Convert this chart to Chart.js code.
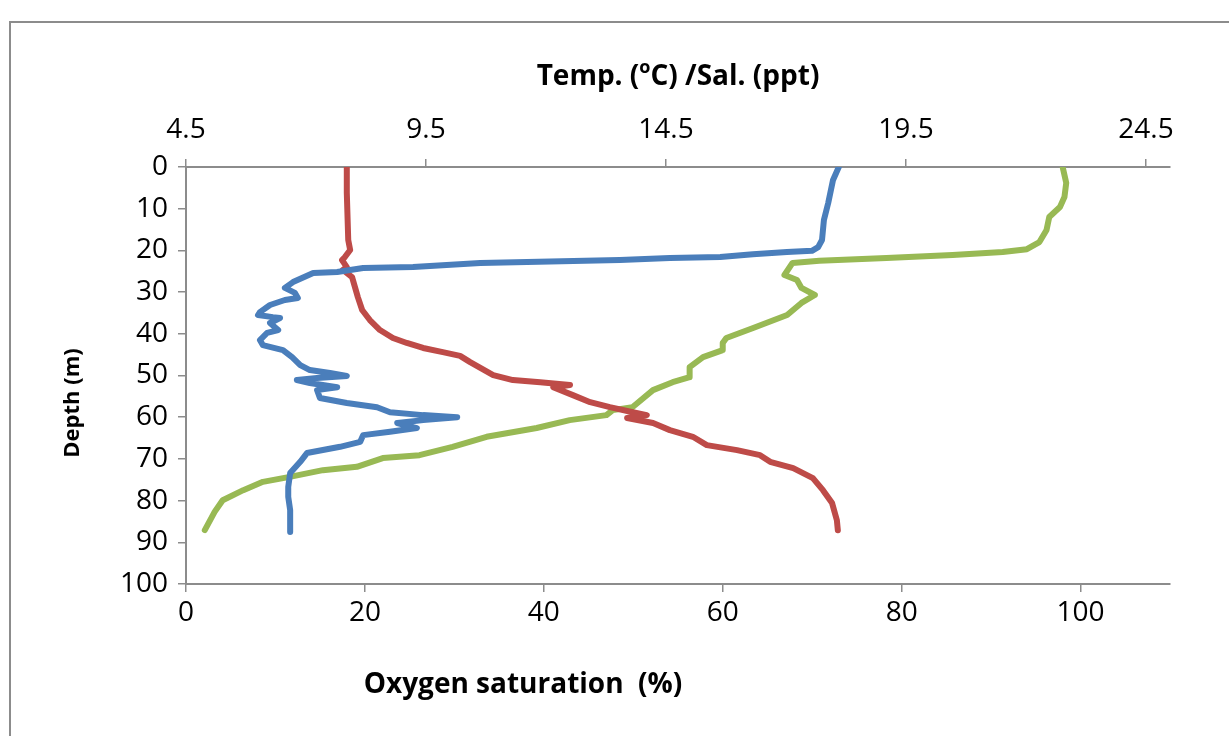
<!DOCTYPE html>
<html><head><meta charset="utf-8">
<script src="https://cdn.jsdelivr.net/npm/chart.js@4.4.1/dist/chart.umd.min.js"></script>
<style>
html,body{margin:0;padding:0;background:#fff;width:1229px;height:736px;overflow:hidden}
#frame{position:absolute;left:9px;top:21px;width:1260px;height:760px;border:2px solid #8c8c8c;box-sizing:border-box}
#wrap{position:absolute;left:0;top:0;width:1229px;height:736px}
</style></head><body>
<div id="frame"></div>
<div id="wrap"><canvas id="c" width="1229" height="736"></canvas></div>
<script>
// ---- data ----
const tempDepth  = [0,3.1,8.6,12.7,17.5,19.2,20.1,20.4,20.9,21.6,21.8,22.3,23.0,24.0,24.2,25.2,25.4,27.6,29.0,30.2,31.4,31.9,33.1,34.8,35.5,36.0,36.2,37.4,39.1,39.8,41.5,42.7,43.9,45.6,47.5,48.7,49.4,50.1,50.6,51.1,51.8,52.8,53.5,55.4,56.6,57.6,58.8,59.5,60.0,60.7,61.4,62.6,63.5,64.3,65.9,67.1,68.6,70.7,73.4,76.7,79.1,82.3,87.5];
const tempValues = [18.1,17.98,17.88,17.79,17.75,17.67,17.54,17.02,16.31,15.63,14.58,13.54,10.63,9.23,8.19,7.65,7.15,6.73,6.56,6.77,6.83,6.56,6.25,6.04,6.0,6.31,6.46,6.25,6.42,6.19,6.04,6.1,6.52,6.71,6.88,7.08,7.5,7.85,7.23,6.81,7.08,7.65,7.23,7.29,7.85,8.48,8.75,9.44,10.15,9.44,8.9,9.31,8.75,8.19,8.13,7.71,7.02,6.88,6.67,6.63,6.63,6.67,6.67];

const salDepth  = [0,6.2,17.5,19.9,21.6,22.3,24.0,24.7,26.4,28.8,31.2,34.3,36.7,39.1,41.0,42.2,43.4,44.4,45.3,46.8,49.9,51.1,51.6,52.3,52.8,54.7,56.4,57.6,58.8,59.5,60.2,61.4,63.1,64.7,66.7,67.9,69.1,70.7,72.2,74.6,77.5,80.6,84.7,87.1];
const salValues = [7.85,7.85,7.88,7.92,7.81,7.75,7.85,7.77,7.96,8.02,8.08,8.17,8.33,8.54,8.81,9.1,9.44,9.85,10.21,10.42,10.9,11.31,11.88,12.5,12.15,12.56,12.92,13.33,13.81,14.1,13.69,14.23,14.58,15.06,15.35,15.98,16.46,16.67,17.15,17.56,17.77,17.96,18.06,18.08];

const oxyDepth  = [0,3.8,7.2,9.6,12.0,15.1,18.0,19.7,20.4,21.1,21.8,22.5,23.0,25.9,27.1,29.0,30.7,32.6,35.5,38.6,41.0,42.2,43.9,45.6,48.0,50.4,51.6,53.5,57.6,58.3,59.5,60.7,62.6,64.7,67.1,69.1,69.8,71.9,72.7,74.3,75.5,77.5,79.9,82.7,87.1];
const oxyValues = [98.0,98.4,98.2,97.7,96.5,96.2,95.4,94.0,91.3,85.7,78.3,70.8,67.8,66.9,68.3,68.8,70.3,68.8,67.2,63.4,60.4,60.0,60.0,57.8,56.3,56.3,54.4,52.2,49.9,47.7,47.0,42.9,39.2,33.6,29.8,26.1,22.0,19.1,15.3,11.6,8.6,6.4,4.1,3.2,2.1];

const depthTicks = [0,10,20,30,40,50,60,70,80,90,100];
const oxyTicks   = [0,20,40,60,80,100];
const tsTicks    = [4.5,9.5,14.5,19.5,24.5];
const tsTickLabels = ['4.5','9.5','14.5','19.5','24.5'];

const depthTitle = 'Depth (m)';
const oxyTitle = 'Oxygen saturation  (%)';
const tsTitleParts = ['Temp. (', 'o', 'C) /Sal. (ppt)'];

// ---- chart ----
const pairs = (xs, ds) => xs.map((v, i) => ({x: v, y: ds[i]}));
const AX = '#8c8c8c';
const tickFont = {family: '"Open Sans"', size: 28};

const titlePlugin = {
  id: 'axisTitles',
  afterDraw(chart) {
    const ctx = chart.ctx;
    const ca = chart.chartArea;
    ctx.save();
    ctx.fillStyle = '#000';
    ctx.textBaseline = 'middle';
    // bottom title
    ctx.font = 'bold 28px "Open Sans"';
    ctx.textAlign = 'left';
    const wO = ctx.measureText(oxyTitle).width;
    ctx.fillText(oxyTitle, 523 - wO / 2, 685);
    // top title with superscript
    ctx.font = 'bold 28px "Open Sans"';
    const w1 = ctx.measureText(tsTitleParts[0]).width;
    const w3 = ctx.measureText(tsTitleParts[2]).width;
    ctx.font = 'bold 18px "Open Sans"';
    const w2 = ctx.measureText(tsTitleParts[1]).width;
    let x = (ca.left + ca.right) / 2 - (w1 + w2 + w3) / 2;
    const ty = 77;
    ctx.font = 'bold 28px "Open Sans"';
    ctx.fillText(tsTitleParts[0], x, ty); x += w1;
    ctx.font = 'bold 18px "Open Sans"';
    ctx.fillText(tsTitleParts[1], x, ty - 9); x += w2;
    ctx.font = 'bold 28px "Open Sans"';
    ctx.fillText(tsTitleParts[2], x, ty);
    // left title
    ctx.translate(73, 403);
    ctx.rotate(-Math.PI / 2);
    ctx.textAlign = 'center';
    ctx.font = 'bold 22px "Open Sans"';
    ctx.fillText(depthTitle, 0, 0);
    ctx.restore();
  }
};

new Chart(document.getElementById('c'), {
  type: 'scatter',
  data: {
    datasets: [
      {label: 'Temperature', data: pairs(tempValues, tempDepth), xAxisID: 'xTop', yAxisID: 'y',
       showLine: true, borderColor: '#4a7ebb', borderWidth: 6, pointRadius: 0, tension: 0, borderJoinStyle: 'round', borderCapStyle: 'round'},
      {label: 'Salinity', data: pairs(salValues, salDepth), xAxisID: 'xTop', yAxisID: 'y',
       showLine: true, borderColor: '#be4b48', borderWidth: 6, pointRadius: 0, tension: 0, borderJoinStyle: 'round', borderCapStyle: 'round'},
      {label: 'Oxygen saturation', data: pairs(oxyValues, oxyDepth), xAxisID: 'xBottom', yAxisID: 'y',
       showLine: true, borderColor: '#98b954', borderWidth: 6, pointRadius: 0, tension: 0, borderJoinStyle: 'round', borderCapStyle: 'round'}
    ]
  },
  options: {
    responsive: false,
    animation: false,
    devicePixelRatio: 1,
    layout: {padding: {left: 0, right: 59, top: 0, bottom: 0}},
    plugins: {legend: {display: false}, tooltip: {enabled: false}},
    scales: {
      y: {
        type: 'linear', position: 'left', reverse: true, min: 0, max: 100,
        afterBuildTicks: s => { s.ticks = depthTicks.map(v => ({value: v})); },
        afterFit: s => { s.width = 186; },
        ticks: {font: tickFont, color: '#000', padding: 10, callback: v => String(v)},
        grid: {drawOnChartArea: false, drawTicks: true, tickLength: 8, color: AX, lineWidth: 1.5},
        border: {display: true, color: AX, width: 2}
      },
      xBottom: {
        type: 'linear', position: 'bottom', min: 0, max: 110,
        afterBuildTicks: s => { s.ticks = oxyTicks.map(v => ({value: v})); },
        afterFit: s => { s.height = 152; },
        ticks: {font: tickFont, color: '#000', padding: 4, maxRotation: 0, callback: v => String(v)},
        grid: {drawOnChartArea: false, drawTicks: true, tickLength: 8, color: AX, lineWidth: 1.5},
        border: {display: true, color: AX, width: 2}
      },
      xTop: {
        type: 'linear', position: 'top', min: 4.5, max: 25,
        afterBuildTicks: s => { s.ticks = tsTicks.map(v => ({value: v})); },
        afterFit: s => { s.height = 167; },
        ticks: {font: tickFont, color: '#000', padding: 12, maxRotation: 0, callback: (v, i) => tsTickLabels[i]},
        grid: {drawOnChartArea: false, drawTicks: true, tickLength: 8, color: AX, lineWidth: 1.5},
        border: {display: true, color: AX, width: 2}
      }
    }
  },
  plugins: [titlePlugin]
});
</script>
</body></html>
